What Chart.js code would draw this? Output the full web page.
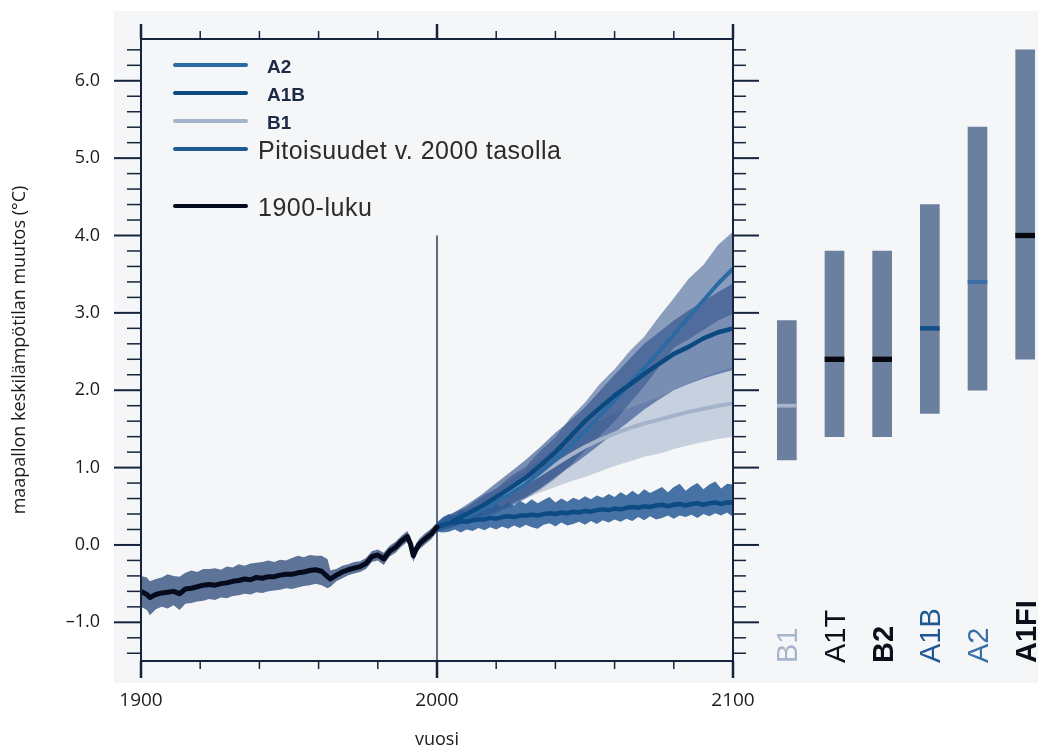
<!DOCTYPE html>
<html lang="fi">
<head>
<meta charset="utf-8">
<title>Maapallon keskilämpötilan muutos</title>
<script src="https://cdn.jsdelivr.net/npm/chart.js@4.4.1/dist/chart.umd.min.js"></script>
<style>
  html, body { margin: 0; padding: 0; background: #fff; }
  body { width: 1041px; height: 748px; overflow: hidden; position: relative; font-family: 'Liberation Sans', Arial, sans-serif; }
  #panel { position: absolute; left: 114px; top: 11px; width: 924px; height: 672px; background: #f5f6f8; }
  #main { position: absolute; left: 0; top: 0; }
  #bars { position: absolute; left: 763px; top: 0; }
  #legend { position: absolute; left: 0; top: 0; width: 0; height: 0; }
  .lg-line { position: absolute; left: 173px; width: 75px; height: 4px; border-radius: 2px; margin-top: -2px; }
  .lg-text { position: absolute; line-height: 1; transform: translateY(-50%); white-space: nowrap; }
  .lg-small { font-size: 19px; font-weight: bold; color: #1c2a45; left: 267px; }
  .lg-big { font-size: 25px; color: #2b2b2b; left: 258px; letter-spacing: 0.5px; }
</style>
</head>
<body>
<div id="panel"></div>
<canvas id="main" width="1041" height="748"></canvas>
<canvas id="bars" width="286" height="748"></canvas>
<div id="legend"></div>
<script>
// 1900-luku (havainnot + mallit)
const histYears = [1900, 1902, 1903, 1905, 1907, 1909, 1911, 1913, 1915, 1917,
  1919, 1921, 1923, 1925, 1927, 1929, 1931, 1933, 1935, 1937,
  1939, 1941, 1943, 1945, 1947, 1949, 1951, 1953, 1955, 1957,
  1959, 1961, 1963, 1964, 1966, 1968, 1970, 1972, 1974, 1976,
  1978, 1980, 1982, 1984, 1986, 1988, 1990, 1991, 1992, 1993,
  1994, 1996, 1998, 2000];
const histMean = [-0.60, -0.64, -0.68, -0.64, -0.62, -0.61, -0.60, -0.63, -0.57, -0.56,
  -0.54, -0.52, -0.51, -0.52, -0.50, -0.49, -0.47, -0.46, -0.44, -0.45,
  -0.42, -0.43, -0.41, -0.41, -0.39, -0.38, -0.38, -0.36, -0.35, -0.33,
  -0.32, -0.34, -0.41, -0.44, -0.39, -0.35, -0.32, -0.30, -0.28, -0.24,
  -0.15, -0.13, -0.18, -0.08, -0.03, 0.05, 0.11, 0.02, -0.14, -0.05,
  0.01, 0.08, 0.14, 0.23];
const histHigh = [-0.40, -0.42, -0.47, -0.44, -0.42, -0.38, -0.40, -0.41, -0.36, -0.33,
  -0.35, -0.31, -0.31, -0.30, -0.32, -0.28, -0.29, -0.25, -0.27, -0.24,
  -0.23, -0.22, -0.20, -0.22, -0.19, -0.20, -0.17, -0.14, -0.16, -0.13,
  -0.14, -0.14, -0.18, -0.33, -0.31, -0.27, -0.25, -0.22, -0.21, -0.17,
  -0.08, -0.06, -0.10, -0.01, 0.04, 0.12, 0.18, 0.09, -0.07, 0.02,
  0.08, 0.15, 0.21, 0.29];
const histLow = [-0.80, -0.84, -0.91, -0.83, -0.80, -0.82, -0.78, -0.84, -0.76, -0.75,
  -0.73, -0.72, -0.70, -0.71, -0.68, -0.69, -0.66, -0.65, -0.63, -0.64,
  -0.61, -0.62, -0.60, -0.59, -0.58, -0.56, -0.57, -0.55, -0.53, -0.52,
  -0.50, -0.52, -0.56, -0.54, -0.47, -0.43, -0.39, -0.37, -0.35, -0.31,
  -0.22, -0.20, -0.26, -0.15, -0.10, -0.02, 0.04, -0.06, -0.22, -0.12,
  -0.06, 0.01, 0.07, 0.17];

// skenaariot 2000-2100, 5 vuoden välein
const scenYears = [2000, 2005, 2010, 2015, 2020, 2025, 2030, 2035, 2040, 2045, 2050,
  2055, 2060, 2065, 2070, 2075, 2080, 2085, 2090, 2095, 2100];
const a2Mean = [0.23, 0.29, 0.37, 0.46, 0.56, 0.67, 0.79, 0.94, 1.10, 1.28, 1.47,
  1.67, 1.87, 2.08, 2.29, 2.50, 2.72, 2.94, 3.16, 3.38, 3.57];
const a2High = [0.29, 0.41, 0.49, 0.63, 0.73, 0.89, 1.01, 1.22, 1.39, 1.64, 1.84,
  2.08, 2.27, 2.50, 2.69, 2.95, 3.19, 3.44, 3.62, 3.88, 4.05];
const a2Low = [0.17, 0.23, 0.30, 0.36, 0.42, 0.50, 0.60, 0.72, 0.86, 1.03, 1.22,
  1.41, 1.60, 1.83, 2.05, 2.30, 2.55, 2.66, 2.78, 2.90, 2.99];
const a1bMean = [0.23, 0.30, 0.40, 0.50, 0.62, 0.74, 0.87, 1.03, 1.20, 1.40, 1.60,
  1.77, 1.93, 2.07, 2.21, 2.34, 2.47, 2.56, 2.67, 2.75, 2.80];
const a1bHigh = [0.29, 0.40, 0.52, 0.65, 0.80, 0.95, 1.10, 1.27, 1.45, 1.61, 1.78,
  1.99, 2.20, 2.40, 2.60, 2.75, 2.90, 3.03, 3.15, 3.27, 3.38];
const a1bLow = [0.17, 0.23, 0.30, 0.37, 0.45, 0.53, 0.62, 0.74, 0.88, 1.01, 1.15,
  1.30, 1.45, 1.60, 1.75, 1.88, 2.00, 2.08, 2.15, 2.21, 2.26];
const b1Mean = [0.23, 0.30, 0.38, 0.47, 0.57, 0.68, 0.80, 0.92, 1.04, 1.16, 1.27,
  1.36, 1.44, 1.51, 1.57, 1.62, 1.67, 1.72, 1.76, 1.80, 1.83];
const b1High = [0.29, 0.38, 0.48, 0.60, 0.72, 0.85, 0.97, 1.11, 1.25, 1.39, 1.52,
  1.61, 1.70, 1.77, 1.84, 1.91, 2.00, 2.09, 2.17, 2.24, 2.30];
const b1Low = [0.17, 0.22, 0.28, 0.34, 0.40, 0.50, 0.60, 0.68, 0.75, 0.82, 0.88,
  0.95, 1.02, 1.08, 1.14, 1.18, 1.24, 1.29, 1.33, 1.37, 1.40];

// pitoisuudet v. 2000 tasolla, 2 vuoden välein
const constYears = [];
for (let yr = 2000; yr <= 2100; yr += 2) constYears.push(yr);
const constMean = [0.23, 0.26, 0.28, 0.29, 0.31, 0.30, 0.32, 0.33, 0.33, 0.35,
  0.34, 0.36, 0.37, 0.36, 0.38, 0.38, 0.39, 0.38, 0.40, 0.41,
  0.40, 0.42, 0.41, 0.43, 0.42, 0.44, 0.43, 0.45, 0.46, 0.45,
  0.47, 0.46, 0.48, 0.49, 0.48, 0.50, 0.49, 0.51, 0.52, 0.50,
  0.52, 0.53, 0.51, 0.53, 0.54, 0.52, 0.54, 0.55, 0.53, 0.55,
  0.55];
const constHigh = [0.29, 0.36, 0.40, 0.38, 0.45, 0.42, 0.48, 0.44, 0.50, 0.47,
  0.53, 0.49, 0.55, 0.51, 0.57, 0.53, 0.59, 0.54, 0.58, 0.62,
  0.55, 0.60, 0.56, 0.61, 0.58, 0.63, 0.59, 0.64, 0.61, 0.66,
  0.62, 0.68, 0.64, 0.70, 0.65, 0.72, 0.67, 0.71, 0.75, 0.68,
  0.75, 0.79, 0.70, 0.76, 0.80, 0.72, 0.78, 0.82, 0.73, 0.79,
  0.78];
const constLow = [0.17, 0.16, 0.17, 0.20, 0.16, 0.20, 0.18, 0.22, 0.19, 0.23,
  0.20, 0.24, 0.21, 0.25, 0.22, 0.26, 0.23, 0.21, 0.26, 0.28,
  0.24, 0.29, 0.25, 0.27, 0.30, 0.26, 0.31, 0.27, 0.32, 0.29,
  0.33, 0.30, 0.34, 0.31, 0.36, 0.32, 0.37, 0.33, 0.35, 0.38,
  0.34, 0.38, 0.36, 0.39, 0.35, 0.40, 0.37, 0.41, 0.38, 0.42,
  0.36];

// oikean reunan palkit: vaihteluväli ja paras arvio
const scenarios = ['B1', 'A1T', 'B2', 'A1B', 'A2', 'A1FI'];
const rangeLow = [1.1, 1.4, 1.4, 1.7, 2.0, 2.4];
const rangeHigh = [2.9, 3.8, 3.8, 4.4, 5.4, 6.4];
const bestEstimate = [1.8, 2.4, 2.4, 2.8, 3.4, 4.0];

const yTickLabels = [-1, 0, 1, 2, 3, 4, 5, 6];
const xTickLabels = [1900, 2000, 2100];

const legendNames = ['A2', 'A1B', 'B1', 'Pitoisuudet v. 2000 tasolla', '1900-luku'];

const axisColor = '#15233d';
const colA2 = '#2b6ba4', colA1B = '#0b4a80', colB1 = '#a5b3ca', colConst = '#0d4b84', colHist = '#050b1c';
const barTextColors = ['#a8b5ca', '#0a0f1a', '#0a0f1a', '#1f5793', '#3a6fa8', '#0a0f1a'];
const barTextWeights = ['normal', 'normal', 'bold', 'normal', 'normal', 'bold'];
const medianColors = ['#a9b5ca', '#05070d', '#05070d', '#134f88', '#3a6ea8', '#05070d'];

const pts = (xs, ys) => xs.map((x, i) => ({ x, y: ys[i] }));

function lineSet(label, xs, ys, color, width, order) {
  return { label, data: pts(xs, ys), borderColor: color, borderWidth: width, fill: false,
    pointRadius: 0, borderCapStyle: 'round', borderJoinStyle: 'round', order };
}
function bandSets(label, xs, hi, lo, color, order) {
  return [
    { label: label + ' yläraja', data: pts(xs, hi), borderWidth: 0, borderColor: 'transparent',
      backgroundColor: color, fill: '+1', pointRadius: 0, order },
    { label: label + ' alaraja', data: pts(xs, lo), borderWidth: 0, borderColor: 'transparent',
      fill: false, pointRadius: 0, order }
  ];
}

const frame = {
  id: 'frame',
  afterDraw(chart) {
    const { ctx, chartArea: a, scales: { x, y } } = chart;
    ctx.save();
    ctx.strokeStyle = axisColor;
    const seg = (x1, y1, x2, y2, w) => {
      ctx.lineWidth = w; ctx.beginPath(); ctx.moveTo(x1, y1); ctx.lineTo(x2, y2); ctx.stroke();
    };
    ctx.lineWidth = 2;
    ctx.strokeRect(a.left, a.top, a.right - a.left, a.bottom - a.top);
    for (let i = -7; i <= 32; i++) {
      const py = y.getPixelForValue(i / 5);
      const major = i % 5 === 0;
      seg(a.left - (major ? 27 : 14), py, a.left, py, major ? 2 : 1.5);
      seg(a.right, py, a.right + (major ? 26 : 13), py, major ? 2 : 1.5);
    }
    for (let yr = 1900; yr <= 2100; yr += 20) {
      const px = x.getPixelForValue(yr);
      const major = yr % 100 === 0;
      seg(px, a.bottom, px, a.bottom + (major ? 17 : 8), major ? 2.5 : 1.5);
      seg(px, a.top, px, a.top - (major ? 15 : 8), major ? 2.5 : 1.5);
    }
    ctx.restore();
  }
};

new Chart(document.getElementById('main'), {
  type: 'line',
  data: {
    datasets: [
      lineSet('1900-luku', histYears, histMean, colHist, 5, 1),
      lineSet('Pitoisuudet v. 2000 tasolla', constYears, constMean, colConst, 4.5, 2),
      lineSet('A1B', scenYears, a1bMean, colA1B, 4.5, 3),
      lineSet('A2', scenYears, a2Mean, colA2, 4, 4),
      lineSet('B1', scenYears, b1Mean, colB1, 4, 5),
      ...bandSets('Pitoisuudet', constYears, constHigh, constLow, 'rgba(40,90,150,0.85)', 6),
      ...bandSets('A1B', scenYears, a1bHigh, a1bLow, 'rgba(45,78,137,0.62)', 7),
      ...bandSets('A2', scenYears, a2High, a2Low, 'rgba(31,68,130,0.5)', 8),
      ...bandSets('B1', scenYears, b1High, b1Low, 'rgba(113,137,177,0.35)', 9),
      ...bandSets('1900-luku', histYears, histHigh, histLow, 'rgba(66,92,135,0.85)', 10),
      { label: '2000', data: [{ x: 2000, y: 4 }, { x: 2000, y: -1.5 }], borderColor: '#2e3d58',
        borderWidth: 1.5, pointRadius: 0, fill: false, order: 11 }
    ]
  },
  options: {
    responsive: false,
    animation: false,
    events: [],
    layout: { padding: { top: 39, right: 308, bottom: 0, left: 0 } },
    plugins: { legend: { display: false }, tooltip: { enabled: false } },
    scales: {
      x: {
        type: 'linear', min: 1900, max: 2100,
        afterFit: s => { s.height = 87; },
        grid: { drawOnChartArea: false, tickLength: 17, color: 'transparent' },
        border: { display: false },
        ticks: {
          stepSize: 20, autoSkip: false, maxRotation: 0, padding: 11, color: '#1a1a1a',
          font: { family: 'Open Sans', size: 19 },
          callback: v => xTickLabels.includes(v) ? String(v) : ''
        },
        title: {
          display: true, text: 'vuosi', color: '#1a1a1a',
          font: { family: 'Open Sans', size: 18 }, padding: { top: 0, bottom: -3 }
        }
      },
      y: {
        min: -1.5, max: 6.54,
        afterFit: s => { s.width = 141; },
        grid: { drawOnChartArea: false, tickLength: 27, color: 'transparent' },
        border: { display: false },
        ticks: {
          stepSize: 1, padding: 14, color: '#1a1a1a',
          font: { family: 'Open Sans', size: 18 },
          callback: v => {
            const n = Math.round(v);
            if (Math.abs(v - n) > 1e-6 || !yTickLabels.includes(n)) return '';
            const s = Math.abs(n).toFixed(1);
            return n < 0 ? '\u2013' + s : s;
          }
        },
        title: {
          display: true, text: 'maapallon keskilämpötilan muutos (°C)', color: '#1a1a1a',
          font: { family: 'Open Sans', size: 18 }, padding: { top: 9, bottom: 0 }
        }
      }
    }
  },
  plugins: [frame]
});

const barLabels = {
  id: 'barLabels',
  afterDraw(chart) {
    const { ctx, chartArea, scales: { x } } = chart;
    const size = 29;
    ctx.save();
    ctx.textAlign = 'left';
    ctx.textBaseline = 'alphabetic';
    scenarios.forEach((name, i) => {
      ctx.save();
      ctx.font = barTextWeights[i] + ' ' + size + 'px "Liberation Sans", Arial, sans-serif';
      ctx.translate(x.getPixelForValue(i) + size * 0.36, chartArea.bottom + 2);
      ctx.rotate(-Math.PI / 2);
      ctx.fillStyle = barTextColors[i];
      ctx.fillText(name, 0, 0);
      ctx.restore();
    });
    ctx.restore();
  }
};

const medianHalf = [0.02, 0.03, 0.03, 0.025, 0.02, 0.03];
new Chart(document.getElementById('bars'), {
  type: 'bar',
  data: {
    labels: scenarios,
    datasets: [
      { label: 'paras arvio', data: bestEstimate.map((m, i) => [m - medianHalf[i], m + medianHalf[i]]),
        backgroundColor: medianColors, barThickness: 19, order: 1 },
      { label: 'vaihteluväli', data: rangeLow.map((lo, i) => [lo, rangeHigh[i]]),
        backgroundColor: '#6b7f9f', barThickness: 19, order: 2 }
    ]
  },
  options: {
    responsive: false,
    animation: false,
    events: [],
    layout: { padding: { top: 39, bottom: 87, left: 0, right: 0 } },
    datasets: { bar: { grouped: false } },
    plugins: { legend: { display: false }, tooltip: { enabled: false } },
    scales: {
      x: { display: false, offset: true },
      y: { display: false, min: -1.5, max: 6.54 }
    }
  },
  plugins: [barLabels]
});

// selite
const legendColors = [colA2, colA1B, colB1, '#1d5a94', colHist];
const legendRows = [65, 93, 121, 149, 206];
const legend = document.getElementById('legend');
legendNames.forEach((name, i) => {
  const line = document.createElement('div');
  line.className = 'lg-line';
  line.style.top = legendRows[i] + 'px';
  line.style.background = legendColors[i];
  legend.appendChild(line);
  const txt = document.createElement('div');
  txt.className = 'lg-text ' + (i < 3 ? 'lg-small' : 'lg-big');
  txt.style.top = (legendRows[i] + 1) + 'px';
  txt.textContent = name;
  legend.appendChild(txt);
});
</script>
</body>
</html>
